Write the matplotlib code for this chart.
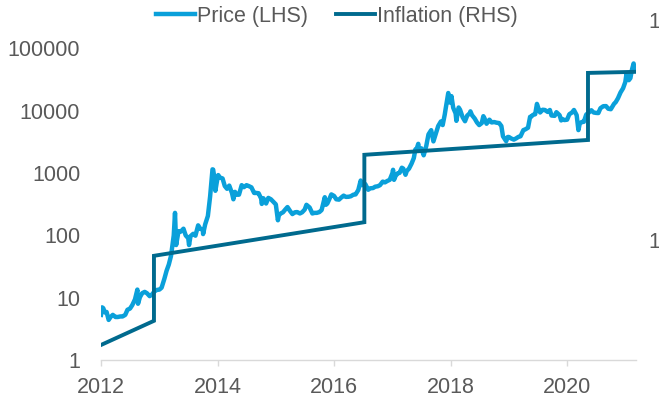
import numpy as np
import pandas as pd
import matplotlib
matplotlib.use("Agg")
import matplotlib.pyplot as plt
import matplotlib.dates as mdates
from matplotlib.ticker import FixedLocator, NullLocator

plt.rcParams['font.family'] = ['Liberation Sans', 'DejaVu Sans']

# bitcoin price, USD (roughly twice a month)
price_dates = [
    "2012-01-01", "2012-01-08", "2012-01-15", "2012-01-25", "2012-02-05", "2012-02-18", "2012-03-01", "2012-03-15",
    "2012-04-01", "2012-04-15", "2012-05-01", "2012-05-15", "2012-06-01", "2012-06-15", "2012-07-01", "2012-07-15",
    "2012-08-01", "2012-08-16", "2012-08-20", "2012-09-01", "2012-09-15", "2012-10-01", "2012-10-15", "2012-11-01",
    "2012-11-15", "2012-12-01", "2012-12-15",
    "2013-01-01", "2013-01-15", "2013-02-01", "2013-02-15", "2013-03-01", "2013-03-15", "2013-04-01", "2013-04-09",
    "2013-04-16", "2013-05-01", "2013-05-15", "2013-06-01", "2013-06-15", "2013-07-01", "2013-07-06", "2013-07-15",
    "2013-08-01", "2013-08-15", "2013-09-01", "2013-09-15", "2013-10-01", "2013-10-02", "2013-10-15", "2013-11-01",
    "2013-11-15", "2013-11-30", "2013-12-04", "2013-12-10", "2013-12-18", "2013-12-28",
    "2014-01-05", "2014-01-15", "2014-02-01", "2014-02-15", "2014-03-01", "2014-03-15", "2014-04-01", "2014-04-10",
    "2014-04-20", "2014-05-01", "2014-05-15", "2014-06-01", "2014-06-15", "2014-07-01", "2014-07-15", "2014-08-01",
    "2014-08-18", "2014-09-01", "2014-09-15", "2014-10-01", "2014-10-05", "2014-10-15", "2014-11-01", "2014-11-15",
    "2014-12-01", "2014-12-15",
    "2015-01-01", "2015-01-14", "2015-01-20", "2015-02-01", "2015-02-15", "2015-03-01", "2015-03-15", "2015-04-01",
    "2015-04-15", "2015-05-01", "2015-05-15", "2015-06-01", "2015-06-15", "2015-07-01", "2015-07-12", "2015-08-01",
    "2015-08-18", "2015-09-01", "2015-09-15", "2015-10-01", "2015-10-15", "2015-11-04", "2015-11-11", "2015-11-20",
    "2015-12-01", "2015-12-15",
    "2016-01-01", "2016-01-15", "2016-02-01", "2016-02-15", "2016-03-01", "2016-03-15", "2016-04-01", "2016-04-15",
    "2016-05-01", "2016-05-15", "2016-06-01", "2016-06-16", "2016-06-25", "2016-07-01", "2016-07-15", "2016-08-02",
    "2016-08-15", "2016-09-01", "2016-09-15", "2016-10-01", "2016-10-15", "2016-11-01", "2016-11-15", "2016-12-01",
    "2016-12-15",
    "2017-01-01", "2017-01-05", "2017-01-11", "2017-01-20", "2017-02-01", "2017-02-15", "2017-03-01", "2017-03-10",
    "2017-03-24", "2017-04-01", "2017-04-15", "2017-05-01", "2017-05-15", "2017-05-25", "2017-06-01", "2017-06-12",
    "2017-06-15", "2017-07-01", "2017-07-16", "2017-08-01", "2017-08-15", "2017-09-01", "2017-09-15", "2017-10-01",
    "2017-10-15", "2017-11-01", "2017-11-12", "2017-11-25", "2017-12-01", "2017-12-17", "2017-12-22",
    "2018-01-01", "2018-01-06", "2018-01-17", "2018-02-01", "2018-02-06", "2018-02-20", "2018-03-01", "2018-03-17",
    "2018-04-01", "2018-04-15", "2018-05-01", "2018-05-05", "2018-05-15", "2018-06-01", "2018-06-15", "2018-06-29",
    "2018-07-15", "2018-07-25", "2018-08-01", "2018-08-14", "2018-09-01", "2018-09-15", "2018-10-01", "2018-10-15",
    "2018-11-01", "2018-11-15", "2018-11-25", "2018-12-15", "2018-12-25",
    "2019-01-01", "2019-01-15", "2019-02-01", "2019-02-15", "2019-03-01", "2019-03-15", "2019-04-02", "2019-04-15",
    "2019-05-01", "2019-05-14", "2019-05-20", "2019-06-01", "2019-06-15", "2019-06-26", "2019-07-05", "2019-07-16",
    "2019-08-01", "2019-08-15", "2019-09-01", "2019-09-15", "2019-09-25", "2019-10-15", "2019-10-26", "2019-11-15",
    "2019-11-25", "2019-12-01", "2019-12-15",
    "2020-01-01", "2020-01-15", "2020-02-01", "2020-02-13", "2020-03-01", "2020-03-12", "2020-03-20", "2020-04-01",
    "2020-04-15", "2020-04-30", "2020-05-15", "2020-06-01", "2020-06-15", "2020-07-01", "2020-07-15", "2020-07-28",
    "2020-08-15", "2020-09-01", "2020-09-15", "2020-10-01", "2020-10-21", "2020-11-01", "2020-11-15", "2020-12-01",
    "2020-12-17", "2020-12-31",
    "2021-01-08", "2021-01-15", "2021-01-22", "2021-02-01", "2021-02-10", "2021-02-21", "2021-02-28", "2021-03-05",
    "2021-03-08",
]
price_usd = [
    5.3, 7.0, 6.8, 5.8, 5.9, 4.4, 4.9, 5.3,
    4.9, 4.9, 5.0, 5.0, 5.3, 6.4, 6.7, 7.6,
    9.4, 13.5, 8.0, 10.2, 11.8, 12.4, 11.8, 10.6,
    11.2, 12.6, 13.3,
    13.5, 14.5, 20, 27, 34, 47, 100, 230,
    70, 117, 115, 128, 100, 90, 70, 97,
    106, 99, 145, 127, 125, 105, 150, 205,
    420, 1150, 1140, 900, 520, 740,
    930, 850, 820, 620, 560, 630, 480, 380,
    500, 450, 450, 640, 595, 640, 620, 590,
    480, 480, 475, 390, 320, 395, 325, 400,
    380, 350,
    315, 175, 210, 225, 235, 260, 285, 245,
    220, 235, 237, 225, 235, 260, 310, 280,
    225, 230, 230, 237, 255, 410, 310, 325,
    375, 455,
    430, 380, 375, 405, 435, 415, 417, 425,
    450, 455, 535, 760, 640, 675, 665, 540,
    570, 575, 605, 615, 640, 730, 710, 750,
    780,
    1000, 1130, 780, 890, 985, 1010, 1220, 1180,
    940, 1080, 1180, 1420, 1740, 2400, 2400, 2950,
    2450, 2500, 1930, 2720, 4180, 4890, 3230, 4400,
    5700, 6750, 5900, 8700, 10900, 19300, 13800,
    13500, 17200, 11200, 9100, 6900, 11300, 10400, 7900,
    6800, 8400, 9100, 9800, 8500, 7500, 6500, 5900,
    6350, 8200, 7600, 6200, 7200, 6500, 6600, 6450,
    6350, 5700, 3900, 3250, 3800,
    3800, 3600, 3450, 3600, 3800, 3900, 4900, 5050,
    5350, 8000, 8000, 8600, 8800, 12900, 11000, 9400,
    10400, 10300, 9600, 10300, 8400, 8300, 9500, 8500,
    7000, 7400, 7100,
    7200, 8800, 9400, 10300, 8500, 4900, 6200, 6600,
    6650, 8700, 9300, 10200, 9400, 9250, 9200, 11000,
    11850, 11900, 10800, 10600, 12900, 13800, 15900, 19700,
    23000, 29000,
    40000, 36000, 31000, 33500, 45000, 57500, 45000, 48500,
    51000,
]

# annual supply inflation, %, with the step at each halving
infl_dates = ["2012-01-01", "2012-11-28", "2012-11-28", "2016-07-09",
              "2016-07-09", "2020-05-11", "2020-05-11", "2021-03-08"]
infl_pct = [30.0, 23.3, 11.8, 8.3, 4.1, 3.51, 1.74, 1.72]

left_ticks = [1, 10, 100, 1000, 10000, 100000]
left_labels = ["1", "10", "100", "1000", "10000", "100000"]
right_ticks = [1, 10]
right_labels = ["1%", "10%"]

price_color = "#0AA0DA"
infl_color = "#006A8E"
text_color = "#595959"
fs = 15.5

fig = plt.figure(figsize=(6.59, 3.98), dpi=100)
ax = fig.add_axes([101 / 659, 38 / 398, 535 / 659, 345 / 398])
ax2 = ax.twinx()

ax.plot(pd.to_datetime(price_dates), price_usd, color=price_color, lw=3.2,
        solid_joinstyle="round", label="Price (LHS)")
ax2.plot(pd.to_datetime(infl_dates), infl_pct, color=infl_color, lw=2.8,
         solid_joinstyle="miter", label="Inflation (RHS)")

ax.set_yscale("log")
ax.set_ylim(1, 10 ** (345 / 62.3))
ax.yaxis.set_major_locator(FixedLocator(left_ticks))
ax.yaxis.set_minor_locator(NullLocator())
ax.set_yticklabels(left_labels)

ax2.set_yscale("log")
ax2.set_ylim(10 ** (340 / 220), 10 ** (-5 / 220))
ax2.yaxis.set_major_locator(FixedLocator(right_ticks))
ax2.yaxis.set_minor_locator(NullLocator())
ax2.set_yticklabels(right_labels)

ax.set_xlim(pd.Timestamp("2012-01-01"), pd.Timestamp("2021-03-08"))
ax.xaxis.set_major_locator(mdates.YearLocator(2))
ax.xaxis.set_major_formatter(mdates.DateFormatter("%Y"))

for a in (ax, ax2):
    for s in ("top", "right", "left"):
        a.spines[s].set_visible(False)
    a.patch.set_visible(False)
ax2.spines["bottom"].set_visible(False)
ax.spines["bottom"].set_color("#D9D9D9")
ax.spines["bottom"].set_linewidth(1.0)

ax.tick_params(axis="x", length=4.5, width=1.0, color="#D9D9D9", pad=8,
               labelsize=fs, labelcolor=text_color)
ax.tick_params(axis="y", length=0, pad=15, labelsize=fs, labelcolor=text_color)
ax2.tick_params(axis="y", length=0, pad=9, labelsize=fs, labelcolor=text_color)

handles = ax.get_lines() + ax2.get_lines()
fig.legend(handles, [h.get_label() for h in handles], loc="upper center",
           bbox_to_anchor=(337 / 659, 1 - 6 / 398), ncol=2, frameon=False,
           fontsize=fs, handlelength=1.8, handletextpad=0.1, columnspacing=1.3,
           borderpad=0, borderaxespad=0, labelcolor=text_color)

fig.savefig("out.png", dpi=100)
